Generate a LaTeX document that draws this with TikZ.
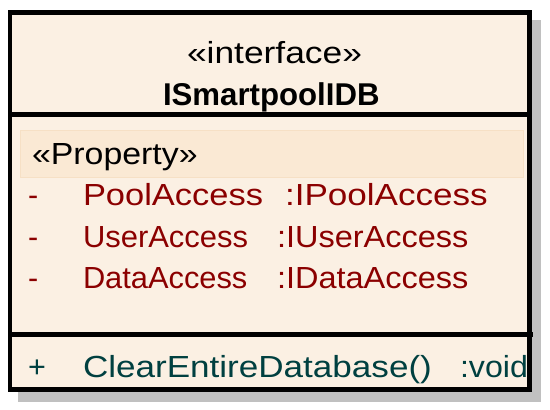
\documentclass[tikz,border=0pt]{standalone}
\usepackage{fontspec}
\setmainfont{Liberation Sans}
\definecolor{bgfill}{RGB}{251,240,227}
\definecolor{propfill}{RGB}{250,233,212}
\definecolor{propedge}{RGB}{246,224,197}
\definecolor{attrred}{RGB}{139,0,0}
\definecolor{opteal}{RGB}{0,64,64}
\definecolor{shadowgray}{RGB}{192,192,192}
\newcommand\hsx[2]{\scalebox{#1}[1]{#2}}
\tikzset{
  txt/.style={anchor=base west, inner sep=0pt, outer sep=0pt, font=\fontsize{30.5}{30.5}\selectfont},
  attr/.style={txt, text=attrred},
  oper/.style={txt, text=opteal},
  border/.style={line width=4.5pt},
}
\begin{document}
\begin{tikzpicture}[x=1pt,y=-1pt]
\useasboundingbox (0,0) rectangle (550,410);
% shadow and body
\fill[shadowgray] (18,20) rectangle (541,401.5);
\fill[bgfill] (10,12.5) rectangle (529.5,389.5);
% property band
\node[draw=propedge, fill=propfill, line width=1.2pt, minimum width=503pt, minimum height=47pt, anchor=north west, inner sep=0pt] (band) at (20,130) {};
% header
\node[txt] (stereo) at (187,63) {\hsx{1.16}{«interface»}};
\node[txt, font=\fontsize{31.5}{31.5}\selectfont\bfseries] (name) at (163,105) {\hsx{0.99}{ISmartpoolIDB}};
% attributes
\node[txt] (prop) at (32,164) {\hsx{1.11}{«Property»}};
\node[attr] (v1) at (28,205) {-};
\node[attr] (a1) at (83,205) {\hsx{1.13}{PoolAccess}};
\node[attr] (t1) at (285,205) {\hsx{1.15}{:IPoolAccess}};
\node[attr] (v2) at (28,247) {-};
\node[attr] (a2) at (83,247) {\hsx{1.015}{UserAccess}};
\node[attr] (t2) at (277,247) {\hsx{1.065}{:IUserAccess}};
\node[attr] (v3) at (28,288) {-};
\node[attr] (a3) at (83,288) {\hsx{1.01}{DataAccess}};
\node[attr] (t3) at (277,288) {\hsx{1.065}{:IDataAccess}};
% operation
\node[oper] (p1) at (28,377) {+};
\node[oper] (o1) at (83,377) {\hsx{1.15}{ClearEntireDatabase()}};
\node[oper] (r1) at (460,377) {\hsx{1.055}{:void}};
% separators and border
\draw[border] (10,114.5) -- (529.5,114.5);
\draw[border] (10,334.5) -- (533,334.5);
\draw[border] (10,12.5) rectangle (529.5,389.5);
\end{tikzpicture}
\end{document}
